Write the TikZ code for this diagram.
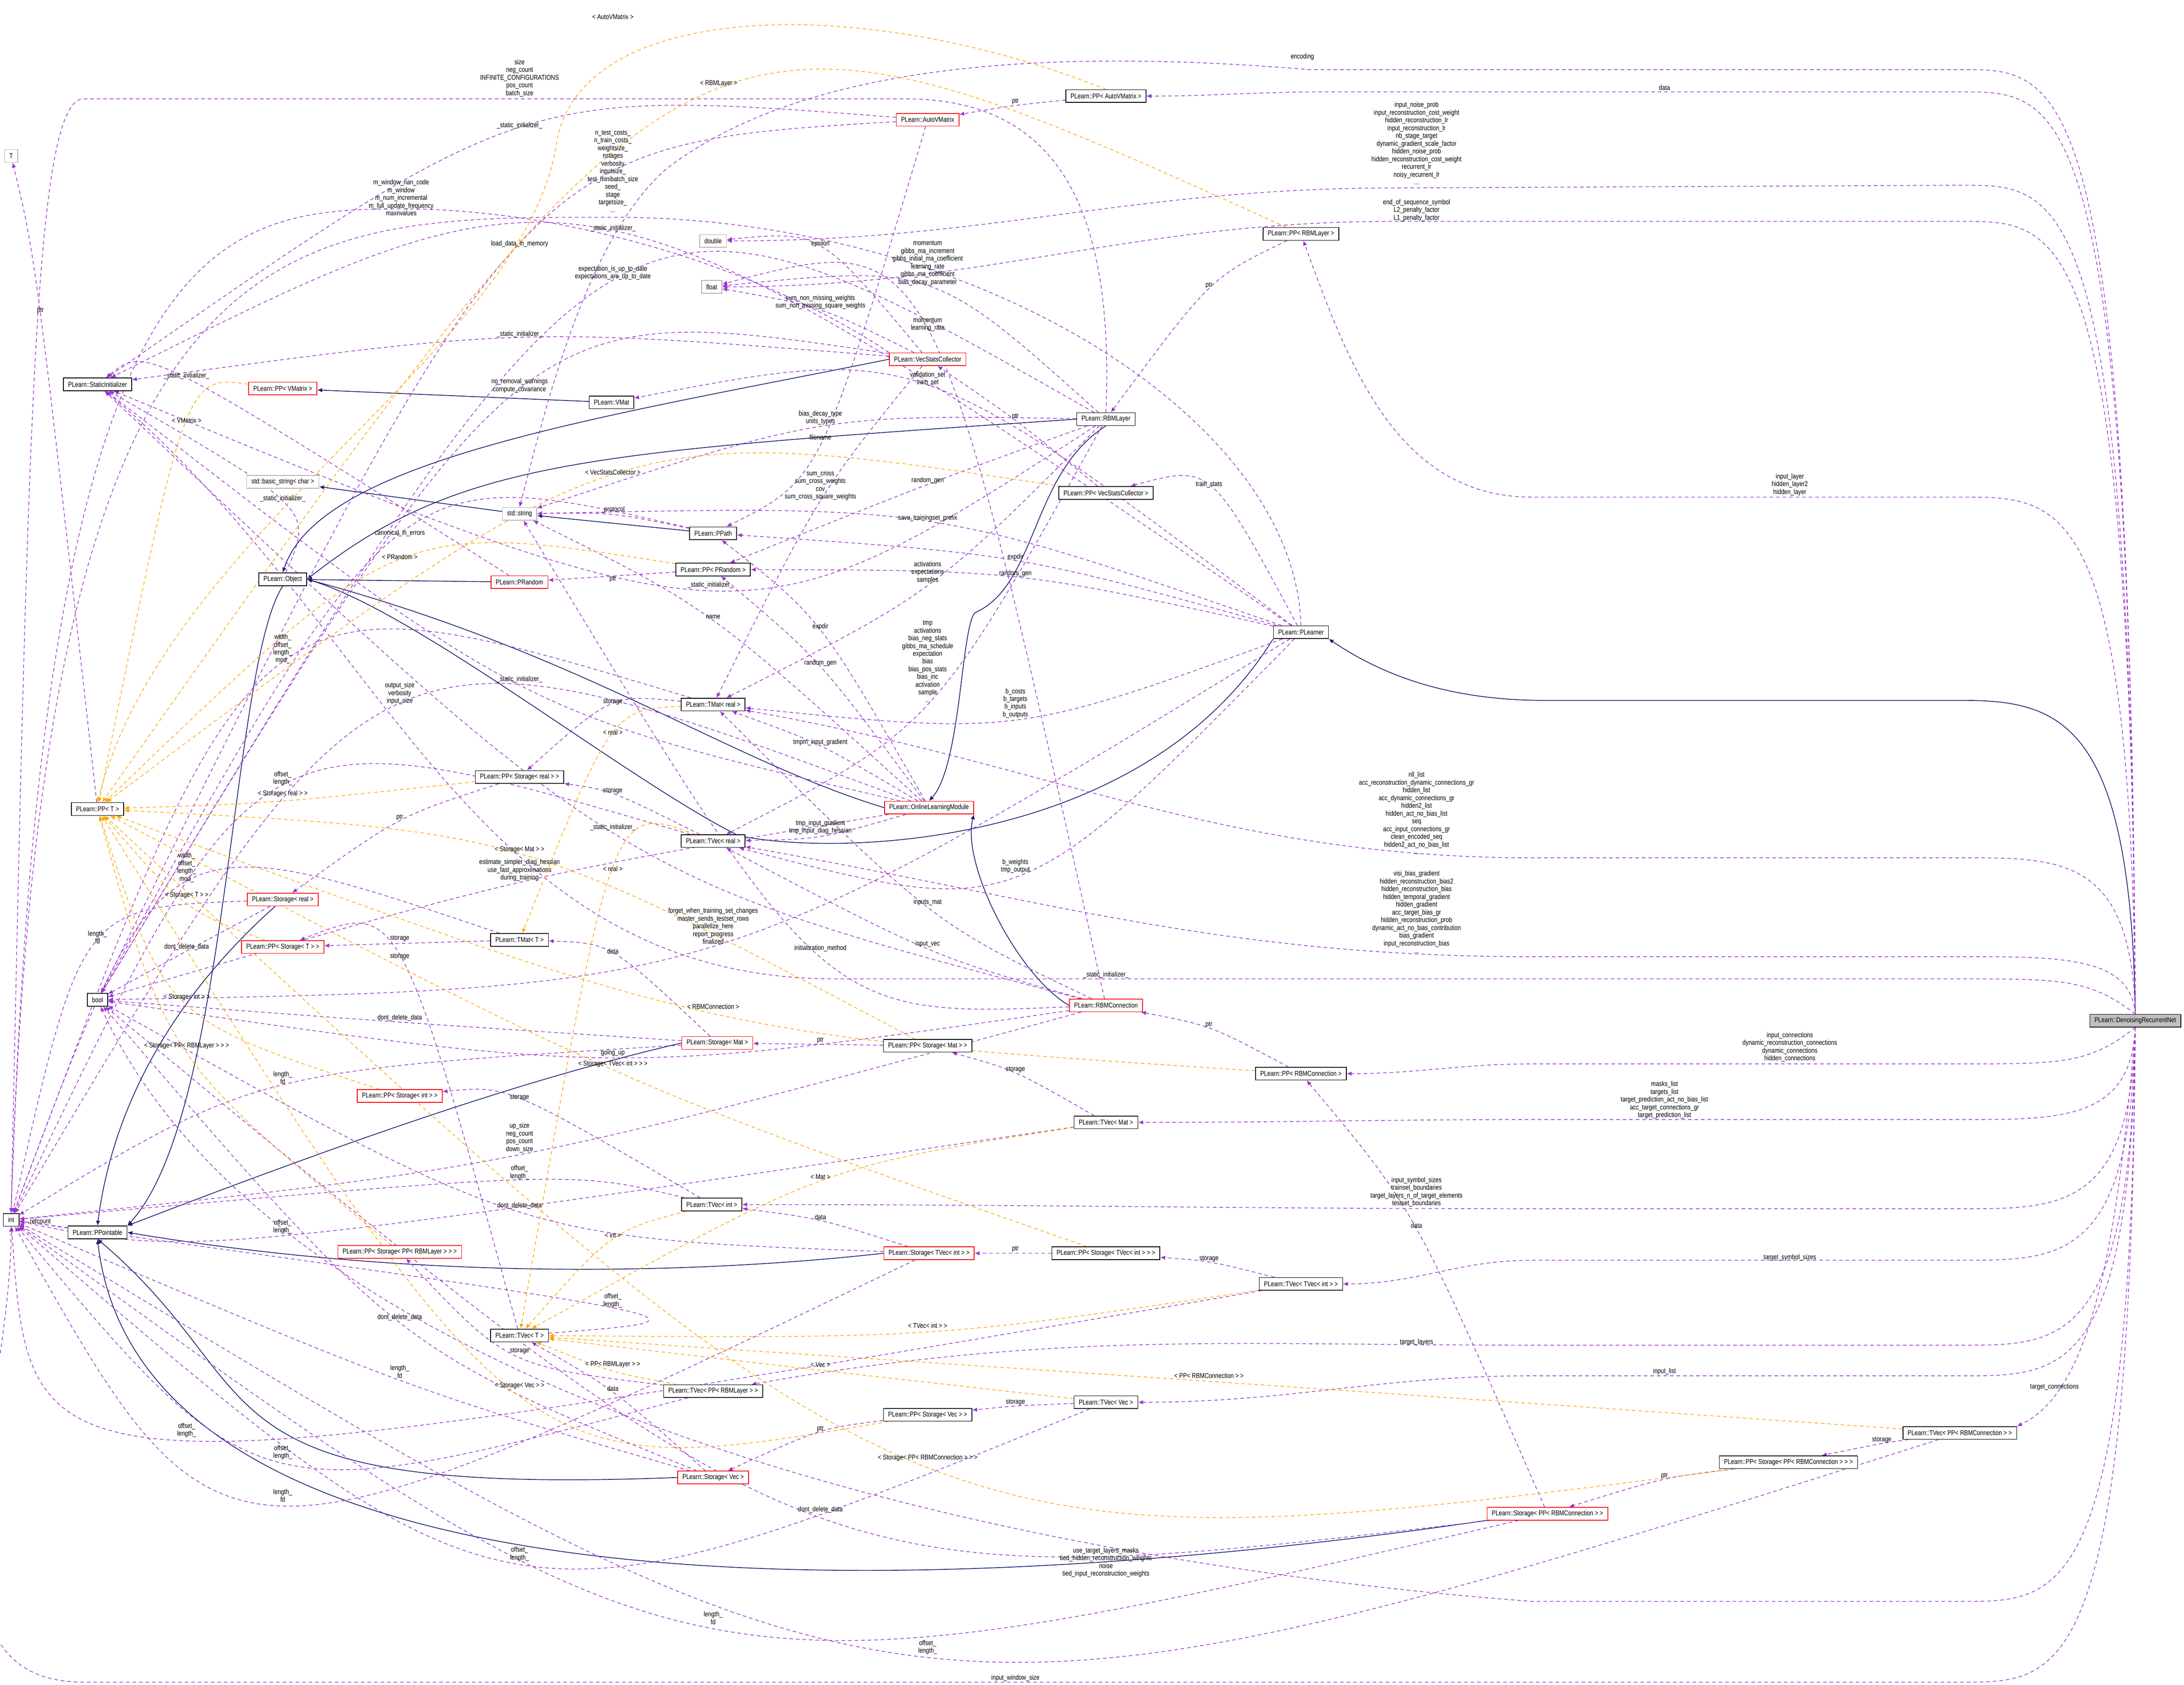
\documentclass[tikz,border=0pt]{standalone}
\usepackage{fontspec}
\setmainfont{Liberation Sans}[FakeStretch=0.82]
\usetikzlibrary{arrows.meta,calc}
\definecolor{inhc}{HTML}{191970}
\definecolor{usec}{HTML}{9A32CD}
\definecolor{tplc}{HTML}{FFA500}
\pgfdeclarelayer{bg}
\pgfsetlayers{bg,main}
\newcommand\lblfont{\fontsize{4.3}{4.75}\selectfont}
\tikzset{
 cls/.style={draw=black, fill=white, font=\lblfont, inner xsep=2.9pt, inner ysep=0pt, minimum height=7.8pt, line width=0.45pt},
 redcls/.style={cls, draw=red},
 graycls/.style={cls, draw=black!30},
 lbl/.style={font=\lblfont, align=center, inner sep=0pt},
 inh/.style={draw=inhc, line width=0.45pt, -{Latex[length=3pt,width=2.6pt]}},
 use/.style={draw=usec, line width=0.4pt, dash pattern=on 2.2pt off 1.8pt, -{Latex[length=3pt,width=2.6pt]}},
 tpl/.style={draw=tplc, line width=0.4pt, dash pattern=on 2.2pt off 1.8pt, -{Latex[length=3pt,width=2.6pt]}}
}
\newcommand\dedge[4]{\draw[#1] (#2) .. controls ($1.3333*(#3)-0.16667*(#2)-0.16667*(#4)$) .. (#4);}
\begin{document}
\begin{tikzpicture}[x=0.03cm,y=-0.03cm]
\useasboundingbox (0,0) rectangle (1568,1210);
\begin{pgfonlayer}{bg}
\fill[white] (0,0) rectangle (1568,1210);
\end{pgfonlayer}
% ---------- nodes
\node[graycls] (T) at (8,112) {T};
\node[cls] (si) at (70,276) {PLearn::StaticInitializer};
\node[redcls] (ppvm) at (203,279) {PLearn::PP< VMatrix >};
\node[cls] (vmat) at (439,289) {PLearn::VMat};
\node[graycls] (bstr) at (203,346) {std::basic\_string< char >};
\node[graycls] (str) at (373,369) {std::string};
\node[graycls] (dbl) at (512,173) {double};
\node[graycls] (flt) at (511,206) {float};
\node[cls] (ppath) at (512,383) {PLearn::PPath};
\node[cls] (ppavm) at (794,69) {PLearn::PP< AutoVMatrix >};
\node[redcls] (avm) at (666,86) {PLearn::AutoVMatrix};
\node[redcls] (vsc) at (666,258) {PLearn::VecStatsCollector};
\node[cls] (rbml) at (794,301) {PLearn::RBMLayer};
\node[cls] (pprbml) at (934,168) {PLearn::PP< RBMLayer >};
\node[cls] (ppvsc) at (794,354) {PLearn::PP< VecStatsCollector >};
\node[cls] (obj) at (203,416) {PLearn::Object};
\node[redcls] (prnd) at (373,418) {PLearn::PRandom};
\node[cls] (pprnd) at (512,409) {PLearn::PP< PRandom >};
\node[cls] (tmatr) at (512,506) {PLearn::TMat< real >};
\node[cls] (ppsr) at (373,558) {PLearn::PP< Storage< real > >};
\node[cls] (ppT) at (70,581) {PLearn::PP< T >};
\node[cls] (tvecr) at (512,604) {PLearn::TVec< real >};
\node[redcls] (sr) at (203,646) {PLearn::Storage< real >};
\node[redcls] (ppsT) at (203,680) {PLearn::PP< Storage< T > >};
\node[cls] (tmatT) at (373,675) {PLearn::TMat< T >};
\node[cls] (bool) at (70,718) {bool};
\node[redcls] (smat) at (515,749) {PLearn::Storage< Mat >};
\node[redcls] (ppsi) at (287,787) {PLearn::PP< Storage< int > >};
\node[cls] (plearner) at (934,454) {PLearn::PLearner};
\node[redcls] (olm) at (667,580) {PLearn::OnlineLearningModule};
\node[redcls] (rbmc) at (794,722) {PLearn::RBMConnection};
\node[cls] (ppsmat) at (666,751) {PLearn::PP< Storage< Mat > >};
\node[cls] (pprbmc) at (934,771) {PLearn::PP< RBMConnection >};
\node[cls] (tvmat) at (794,806) {PLearn::TVec< Mat >};
\node[cls] (int) at (8,876) {int};
\node[cls] (ppointable) at (70,885) {PLearn::PPointable};
\node[redcls] (ppsrbml) at (287,899) {PLearn::PP< Storage< PP< RBMLayer > > >};
\node[cls] (tveci) at (511,865) {PLearn::TVec< int >};
\node[cls] (tvecT) at (373,959) {PLearn::TVec< T >};
\node[cls] (tvprbml) at (512,999) {PLearn::TVec< PP< RBMLayer > >};
\node[redcls] (svec) at (512,1061) {PLearn::Storage< Vec >};
\node[redcls] (stvi) at (667,900) {PLearn::Storage< TVec< int > >};
\node[cls] (ppstvi) at (794,900) {PLearn::PP< Storage< TVec< int > > >};
\node[cls] (tvtvi) at (934,922) {PLearn::TVec< TVec< int > >};
\node[cls] (tvvec) at (794,1007) {PLearn::TVec< Vec >};
\node[cls] (ppsvec) at (666,1016) {PLearn::PP< Storage< Vec > >};
\node[cls] (tvprbmc) at (1407,1029) {PLearn::TVec< PP< RBMConnection > >};
\node[cls] (ppsprbmc) at (1284,1050) {PLearn::PP< Storage< PP< RBMConnection > > >};
\node[redcls] (sprbmc) at (1111,1087) {PLearn::Storage< PP< RBMConnection > >};
\node[cls, fill=black!25] (drn) at (1533,733) {PLearn::DenoisingRecurrentNet};
% ---------- labels
\node[lbl] (l1) at (440,12) {< AutoVMatrix >};
\node[lbl] (l2) at (373,56) {size\\neg\_count\\INFINITE\_CONFIGURATIONS\\pos\_count\\batch\_size};
\node[lbl] (l3) at (516,60) {< RBMLayer >};
\node[lbl] (l4) at (373,90) {\_static\_initializer\_};
\node[lbl] (l5) at (440,123) {n\_test\_costs\_\\n\_train\_costs\_\\weightsize\_\\nstages\\verbosity\\inputsize\_\\test\_minibatch\_size\\seed\_\\stage\\targetsize\_\\...};
\node[lbl] (l6) at (288,142) {m\_window\_nan\_code\\m\_window\\m\_num\_incremental\\m\_full\_update\_frequency\\maxnvalues};
\node[lbl] (l7) at (440,164) {\_static\_initializer\_};
\node[lbl] (l8) at (373,175) {load\_data\_in\_memory};
\node[lbl] (l9) at (440,196) {expectation\_is\_up\_to\_date\\expectations\_are\_up\_to\_date};
\node[lbl] (l10) at (29,223) {ptr};
\node[lbl] (l11) at (373,240) {\_static\_initializer\_};
\node[lbl] (l12) at (134,270) {\_static\_initializer\_};
\node[lbl] (l13) at (373,277) {no\_removal\_warnings\\compute\_covariance};
\node[lbl] (l14) at (134,302) {< VMatrix >};
\node[lbl] (l15) at (440,339) {< VecStatsCollector >};
\node[lbl] (l16) at (203,358) {\_static\_initializer\_};
\node[lbl] (l17) at (440,366) {\_protocol};
\node[lbl] (l18) at (287,383) {canonical\_in\_errors};
\node[lbl] (l19) at (287,400) {< PRandom >};
\node[lbl] (l20) at (935,41) {encoding};
\node[lbl] (l21) at (729,73) {ptr};
\node[lbl] (l22) at (1017,103) {input\_noise\_prob\\input\_reconstruction\_cost\_weight\\hidden\_reconstruction\_lr\\input\_reconstruction\_lr\\nb\_stage\_target\\dynamic\_gradient\_scale\_factor\\hidden\_noise\_prob\\hidden\_reconstruction\_cost\_weight\\recurrent\_lr\\noisy\_recurrent\_lr\\...};
\node[lbl] (l23) at (1017,151) {end\_of\_sequence\_symbol\\L2\_penalty\_factor\\L1\_penalty\_factor};
\node[lbl] (l24) at (589,175) {epsilon};
\node[lbl] (l25) at (666,189) {momentum\\gibbs\_ma\_increment\\gibbs\_initial\_ma\_coefficient\\learning\_rate\\gibbs\_ma\_coefficient\\bias\_decay\_parameter};
\node[lbl] (l26) at (868,205) {ptr};
\node[lbl] (l27) at (589,217) {sum\_non\_missing\_weights\\sum\_non\_missing\_square\_weights};
\node[lbl] (l28) at (666,233) {momentum\\learning\_rate};
\node[lbl] (l29) at (666,272) {validation\_set\\train\_set};
\node[lbl] (l30) at (589,300) {bias\_decay\_type\\units\_types};
\node[lbl] (l31) at (729,299) {ptr};
\node[lbl] (l32) at (589,314) {filename};
\node[lbl] (l33) at (589,349) {sum\_cross\\sum\_cross\_weights\\cov\\sum\_cross\_square\_weights};
\node[lbl] (l34) at (666,345) {random\_gen};
\node[lbl] (l35) at (868,348) {train\_stats};
\node[lbl] (l36) at (666,372) {save\_trainingset\_prefix};
\node[lbl] (l37) at (729,400) {expdir};
\node[lbl] (l38) at (1195,63) {data};
\node[lbl] (l39) at (1285,348) {input\_layer\\hidden\_layer2\\hidden\_layer};
\node[lbl] (l40) at (440,416) {ptr};
\node[lbl] (l41) at (510,420) {\_static\_initializer\_};
\node[lbl] (l42) at (512,443) {name};
\node[lbl] (l43) at (203,466) {width\_\\offset\_\\length\_\\mod\_};
\node[lbl] (l44) at (373,488) {\_static\_initializer\_};
\node[lbl] (l45) at (287,498) {output\_size\\verbosity\\input\_size};
\node[lbl] (l46) at (440,504) {storage};
\node[lbl] (l47) at (440,526) {< real >};
\node[lbl] (l48) at (203,559) {offset\_\\length\_};
\node[lbl] (l49) at (203,570) {< Storage< real > >};
\node[lbl] (l50) at (440,568) {storage};
\node[lbl] (l51) at (287,587) {ptr};
\node[lbl] (l52) at (440,594) {\_static\_initializer\_};
\node[lbl] (l53) at (373,610) {< Storage< Mat > >};
\node[lbl] (l54) at (373,625) {estimate\_simpler\_diag\_hessian\\use\_fast\_approximations\\during\_training};
\node[lbl] (l55) at (440,624) {< real >};
\node[lbl] (l56) at (134,623) {width\_\\offset\_\\length\_\\mod\_};
\node[lbl] (l57) at (134,643) {< Storage< T > >};
\node[lbl] (l58) at (512,665) {forget\_when\_training\_set\_changes\\master\_sends\_testset\_rows\\parallelize\_here\\report\_progress\\finalized};
\node[lbl] (l59) at (70,673) {length\_\\fd};
\node[lbl] (l60) at (134,680) {dont\_delete\_data};
\node[lbl] (l61) at (287,674) {storage};
\node[lbl] (l62) at (287,687) {storage};
\node[lbl] (l63) at (440,683) {data};
\node[lbl] (l64) at (134,716) {< Storage< int > >};
\node[lbl] (l65) at (512,723) {< RBMConnection >};
\node[lbl] (l66) at (287,731) {dont\_delete\_data};
\node[lbl] (l67) at (134,751) {< Storage< PP< RBMLayer > > >};
\node[lbl] (l68) at (440,756) {going\_up};
\node[lbl] (l69) at (440,764) {< Storage< TVec< int > > >};
\node[lbl] (l70) at (203,774) {length\_\\fd};
\node[lbl] (l71) at (373,788) {storage};
\node[lbl] (l72) at (666,411) {activations\\expectations\\samples};
\node[lbl] (l73) at (729,412) {random\_gen};
\node[lbl] (l74) at (589,450) {expdir};
\node[lbl] (l75) at (666,475) {tmp\\activations\\bias\_neg\_stats\\gibbs\_ma\_schedule\\expectation\\bias\\bias\_pos\_stats\\bias\_inc\\activation\\sample\\...};
\node[lbl] (l76) at (589,476) {random\_gen};
\node[lbl] (l77) at (729,505) {b\_costs\\b\_targets\\b\_inputs\\b\_outputs};
\node[lbl] (l78) at (589,533) {tmpm\_input\_gradient};
\node[lbl] (l79) at (1017,584) {nll\_list\\acc\_reconstruction\_dynamic\_connections\_gr\\hidden\_list\\acc\_dynamic\_connections\_gr\\hidden2\_list\\hidden\_act\_no\_bias\_list\\seq\\acc\_input\_connections\_gr\\clean\_encoded\_seq\\hidden2\_act\_no\_bias\_list\\...};
\node[lbl] (l80) at (589,594) {tmp\_input\_gradient\\tmp\_input\_diag\_hessian};
\node[lbl] (l81) at (729,622) {b\_weights\\tmp\_output};
\node[lbl] (l82) at (666,648) {inputs\_mat};
\node[lbl] (l83) at (1017,655) {visi\_bias\_gradient\\hidden\_reconstruction\_bias2\\hidden\_reconstruction\_bias\\hidden\_temporal\_gradient\\hidden\_gradient\\acc\_target\_bias\_gr\\hidden\_reconstruction\_prob\\dynamic\_act\_no\_bias\_contribution\\bias\_gradient\\input\_reconstruction\_bias\\...};
\node[lbl] (l84) at (666,678) {input\_vec};
\node[lbl] (l85) at (589,681) {initialization\_method};
\node[lbl] (l86) at (794,700) {\_static\_initializer\_};
\node[lbl] (l87) at (868,736) {ptr};
\node[lbl] (l88) at (589,747) {ptr};
\node[lbl] (l89) at (729,768) {storage};
\node[lbl] (l90) at (1285,752) {input\_connections\\dynamic\_reconstruction\_connections\\dynamic\_connections\\hidden\_connections};
\node[lbl] (l91) at (1195,790) {masks\_list\\targets\_list\\target\_prediction\_act\_no\_bias\_list\\acc\_target\_connections\_gr\\target\_prediction\_list};
\node[lbl] (l92) at (373,817) {up\_size\\neg\_count\\pos\_count\\down\_size};
\node[lbl] (l93) at (373,842) {offset\_\\length\_};
\node[lbl] (l94) at (373,866) {dont\_delete\_data};
\node[lbl] (l95) at (29,877) {refcount};
\node[lbl] (l96) at (203,881) {offset\_\\length\_};
\node[lbl] (l97) at (440,887) {< int >};
\node[lbl] (l98) at (440,934) {offset\_\\length\_};
\node[lbl] (l99) at (287,946) {dont\_delete\_data};
\node[lbl] (l100) at (373,970) {storage};
\node[lbl] (l101) at (440,980) {< PP< RBMLayer > >};
\node[lbl] (l102) at (287,985) {length\_\\fd};
\node[lbl] (l103) at (373,995) {< Storage< Vec > >};
\node[lbl] (l104) at (440,997) {data};
\node[lbl] (l105) at (134,1027) {offset\_\\length\_};
\node[lbl] (l106) at (203,1043) {offset\_\\length\_};
\node[lbl] (l107) at (203,1074) {length\_\\fd};
\node[lbl] (l108) at (373,1116) {offset\_\\length\_};
\node[lbl] (l109) at (512,1162) {length\_\\fd};
\node[lbl] (l110) at (589,845) {< Mat >};
\node[lbl] (l111) at (1017,856) {input\_symbol\_sizes\\trainset\_boundaries\\target\_layers\_n\_of\_target\_elements\\testset\_boundaries};
\node[lbl] (l112) at (589,874) {data};
\node[lbl] (l113) at (1017,880) {data};
\node[lbl] (l114) at (729,897) {ptr};
\node[lbl] (l115) at (868,904) {storage};
\node[lbl] (l116) at (666,952) {< TVec< int > >};
\node[lbl] (l117) at (1017,964) {target\_layers};
\node[lbl] (l118) at (589,980) {< Vec >};
\node[lbl] (l119) at (868,988) {< PP< RBMConnection > >};
\node[lbl] (l120) at (729,1007) {storage};
\node[lbl] (l121) at (589,1026) {ptr};
\node[lbl] (l122) at (666,1047) {< Storage< PP< RBMConnection > > >};
\node[lbl] (l123) at (589,1084) {dont\_delete\_data};
\node[lbl] (l124) at (794,1122) {use\_target\_layers\_masks\\tied\_hidden\_reconstruction\_weights\\noise\\tied\_input\_reconstruction\_weights};
\node[lbl] (l125) at (666,1183) {offset\_\\length\_};
\node[lbl] (l126) at (729,1205) {input\_window\_size};
\node[lbl] (l127) at (1285,903) {target\_symbol\_sizes};
\node[lbl] (l128) at (1195,985) {input\_list};
\node[lbl] (l129) at (1475,996) {target\_connections};
\node[lbl] (l130) at (1351,1034) {storage};
\node[lbl] (l131) at (1195,1060) {ptr};
\begin{pgfonlayer}{bg}
% ---------- inheritance
\draw[inh] (vmat) -- (ppvm);
\draw[inh] (str) -- (bstr);
\draw[inh] (ppath) -- (str);
\draw[inh] (prnd) -- (obj);
\draw[inh] (vsc.west) .. controls (430,300) and (230,330) .. (obj.north);
\draw[inh] (rbml.west) .. controls (420,325) and (330,330) .. (obj.east);
\draw[inh] (olm.west) .. controls (520,545) and (420,470) .. (obj.east);
\draw[inh] (plearner.south west) .. controls (820,610) and (600,615) .. (530,600) .. controls (450,560) and (300,440) .. (obj.east);
\draw[inh] (rbml.south) .. controls (740,340) and (745,420) .. (700,440) .. controls (690,450) and (690,550) .. (olm.north);
\draw[inh] (rbmc.west) .. controls (730,700) and (690,620) .. (olm.south east);
\draw[inh] (drn.north) .. controls (1530,520) and (1480,503) .. (1410,503) -- (1110,503) .. controls (1050,503) and (1000,490) .. (plearner.south east);
\draw[inh] (obj.south) .. controls (165,480) and (165,800) .. (ppointable.north east);
\draw[inh] (sr) .. controls (120,720) and (80,800) .. (ppointable.north);
\draw[inh] (smat.west) .. controls (400,770) and (300,800) .. (ppointable.north east);
\draw[inh] (stvi.west) .. controls (500,915) and (300,920) .. (ppointable.east);
\draw[inh] (svec.west) .. controls (130,1075) and (200,1000) .. (ppointable.south);
\draw[inh] (sprbmc.south west) .. controls (600,1160) and (100,1150) .. (ppointable.south);
% ---------- DRN lanes
\draw[use] (drn.north) .. controls (1530,50) and (1480,50) .. (1410,50) -- (940,50) .. controls (700,30) and (560,60) .. (480,120) .. controls (420,170) and (390,300) .. (str.north);
\draw[use] (drn.north) .. controls (1530,66) and (1480,66) .. (1410,66) -- (950,66) to[out=180,in=0] (ppavm);
\draw[use] (drn.north) .. controls (1530,133) and (1480,133) .. (1410,133) -- (1000,135) to[out=180,in=0] (dbl);
\draw[use] (drn.north) .. controls (1530,159) and (1480,159) .. (1410,159) -- (1000,159) to[out=180,in=0] (flt);
\draw[use] (drn.north) .. controls (1530,357) and (1480,357) .. (1410,357) -- (1100,357) to[out=180,in=-70] (pprbml);
\draw[use] (drn.north) .. controls (1530,616) and (1480,616) .. (1410,616) -- (1100,616) to[out=180,in=-10] (tmatr);
\draw[use] (drn.north) .. controls (1530,687) and (1480,687) .. (1410,687) -- (1100,687) to[out=180,in=-10] (tvecr);
\draw[use] (drn.north) .. controls (1500,703) and (1480,703) .. (1410,703) -- (600,703) to[out=180,in=-40] (si);
\draw[use] (drn.south) .. controls (1500,764) and (1480,764) .. (1410,764) -- (1100,764) to[out=180,in=0] (pprbmc);
\draw[use] (drn.south) .. controls (1530,804) and (1480,804) .. (1410,804) -- (1100,804) to[out=180,in=0] (tvmat);
\draw[use] (drn.south) .. controls (1530,868) and (1480,868) .. (1410,868) -- (1100,868) to[out=180,in=0] (tveci);
\draw[use] (drn.south) .. controls (1530,905) and (1480,905) .. (1410,905) -- (1100,905) to[out=180,in=0] (tvtvi);
\draw[use] (drn.south) .. controls (1530,966) and (1480,966) .. (1410,966) -- (1100,966) to[out=180,in=10] (tvprbml);
\draw[use] (drn.south) .. controls (1530,988) and (1480,988) .. (1410,988) -- (1100,988) to[out=180,in=0] (tvvec);
\draw[use] (drn.south) .. controls (1520,900) and (1500,1000) .. (tvprbmc.north east);
\draw[use] (drn.south) .. controls (1530,1150) and (1480,1150) .. (1410,1150) -- (1100,1150) .. controls (700,1120) and (200,1000) .. (bool);
\draw[use] (drn.south) .. controls (1530,1208) and (1480,1208) .. (1410,1208) -- (60,1208) to[out=180,in=-90] (int.south);
% ---------- to int
\draw[use] (rbml.north) .. controls (800,150) and (760,71) .. (650,71) -- (60,71) .. controls (25,71) and (20,300) .. (int.north);
\draw[use] (plearner.north) .. controls (930,300) and (700,156) .. (440,156) .. controls (200,156) and (30,150) .. (int.north);
\draw[use] (vsc.north west) .. controls (560,200) and (420,150) .. (288,150) .. controls (150,150) and (30,170) .. (int.north);
\draw[use] (ppointable) -- (int);
\dedge{use}{olm}{287,507}{int}
\dedge{use}{rbmc}{373,829}{int}
\dedge{use}{tmatr}{203,478}{int}
\dedge{use}{tmatT}{134,635}{int}
\dedge{use}{tvecr}{203,566}{int}
\dedge{use}{tveci}{373,848}{int}
\dedge{use}{tvecT}{440,940}{int}
\dedge{use}{tvmat}{203,887}{int}
\dedge{use}{tvtvi}{134,1033}{int}
\dedge{use}{tvprbml}{203,1049}{int}
\dedge{use}{tvvec}{373,1122}{int}
\dedge{use}{tvprbmc}{666,1189}{int}
\dedge{use}{sr}{70,679}{int}
\dedge{use}{smat}{203,780}{int}
\dedge{use}{stvi}{203,1080}{int}
\dedge{use}{svec}{287,991}{int}
\dedge{use}{sprbmc}{512,1168}{int}
% ---------- to bool
\dedge{use}{plearner}{512,679}{bool}
\dedge{use}{rbml}{440,203}{bool}
\dedge{use}{vsc}{373,283}{bool}
\dedge{use}{avm}{373,178}{bool}
\dedge{use}{olm}{373,634}{bool}
\dedge{use}{rbmc}{440,759}{bool}
\dedge{use}{sr}{134,683}{bool}
\dedge{use}{smat}{287,734}{bool}
\dedge{use}{stvi}{373,869}{bool}
\dedge{use}{svec}{287,949}{bool}
\dedge{use}{sprbmc}{589,1087}{bool}
\dedge{use}{ppath}{287,386}{bool}
% ---------- to StaticInitializer
\dedge{use}{avm}{373,93}{si}
\dedge{use}{plearner}{440,167}{si}
\dedge{use}{vsc}{373,243}{si}
\dedge{use}{prnd}{134,273}{si}
\dedge{use}{obj}{203,361}{si}
\dedge{use}{rbml}{510,423}{si}
\dedge{use}{olm}{373,491}{si}
\dedge{use}{rbmc}{440,597}{si}
% ---------- other usages
\dedge{use}{ppath}{440,370}{str}
\dedge{use}{rbml}{589,307}{str}
\dedge{use}{olm}{512,446}{str}
\dedge{use}{rbmc}{589,684}{str}
\dedge{use}{plearner}{666,375}{str}
\dedge{use}{avm}{589,317}{ppath}
\dedge{use}{plearner}{729,403}{ppath}
\dedge{use}{olm}{589,453}{ppath}
\dedge{use}{vsc}{589,178}{dbl}
\dedge{use}{rbml}{666,206}{flt}
\dedge{use}{vsc}{589,223}{flt}
\dedge{use}{rbmc}{666,239}{flt}
\dedge{use}{plearner}{666,278}{vmat}
\dedge{use}{plearner}{868,351}{ppvsc}
\dedge{use}{rbml}{666,348}{pprnd}
\dedge{use}{plearner}{729,415}{pprnd}
\dedge{use}{olm}{589,479}{pprnd}
\dedge{use}{vsc}{589,360}{tmatr}
\dedge{use}{rbmc}{666,651}{tmatr}
\dedge{use}{olm}{589,536}{tmatr}
\dedge{use}{plearner}{729,516}{tmatr}
\dedge{use}{rbml}{666,420}{tmatr}
\dedge{use}{rbml}{666,505}{tvecr}
\dedge{use}{olm}{589,600}{tvecr}
\dedge{use}{plearner}{729,628}{tvecr}
\dedge{use}{rbmc}{666,681}{tvecr}
% ---------- pointers
\dedge{use}{ppT}{29,226}{T}
\dedge{use}{ppavm}{729,76}{avm}
\dedge{use}{pprbml}{868,208}{rbml}
\dedge{use}{ppvsc}{729,302}{vsc}
\draw[use] (pprnd) -- (prnd);
\dedge{use}{ppsr}{287,590}{sr}
\draw[use] (ppsmat) -- (smat);
\draw[use] (ppstvi) -- (stvi);
\dedge{use}{ppsvec}{589,1029}{svec}
\dedge{use}{ppsprbmc}{1195,1063}{sprbmc}
\dedge{use}{pprbmc}{868,739}{rbmc}
% ---------- storage / data
\dedge{use}{tmatr}{440,507}{ppsr}
\dedge{use}{tvecr}{440,571}{ppsr}
\draw[use] (tmatT) -- (ppsT);
\dedge{use}{tvecT}{287,690}{ppsT}
\dedge{use}{tvmat}{729,771}{ppsmat}
\dedge{use}{tveci}{373,791}{ppsi}
\dedge{use}{tvtvi}{868,907}{ppstvi}
\dedge{use}{tvprbml}{373,973}{ppsrbml}
\dedge{use}{tvvec}{729,1010}{ppsvec}
\dedge{use}{tvprbmc}{1351,1037}{ppsprbmc}
\dedge{use}{smat}{440,686}{tmatT}
\dedge{use}{stvi}{589,877}{tveci}
\dedge{use}{svec}{440,1000}{tvecT}
\dedge{use}{sprbmc}{1017,883}{pprbmc}
% ---------- template instances
\draw[tpl] (ppavm.north) .. controls (620,-5) and (420,0) .. (400,100) .. controls (380,250) and (120,380) .. (ppT.north);
\dedge{tpl}{pprbml}{500,72}{ppT}
\dedge{tpl}{ppvm}{134,310}{ppT}
\dedge{tpl}{ppvsc}{440,343}{ppT}
\dedge{tpl}{pprnd}{287,404}{ppT}
\dedge{tpl}{ppsr}{203,575}{ppT}
\dedge{tpl}{ppsT}{134,648}{ppT}
\dedge{tpl}{ppsmat}{373,614}{ppT}
\dedge{tpl}{ppsi}{134,720}{ppT}
\dedge{tpl}{ppsrbml}{134,755}{ppT}
\dedge{tpl}{ppstvi}{440,768}{ppT}
\dedge{tpl}{ppsvec}{373,999}{ppT}
\dedge{tpl}{ppsprbmc}{666,1051}{ppT}
\dedge{tpl}{pprbmc}{512,727}{ppT}
\dedge{tpl}{tmatr}{440,530}{tmatT}
\dedge{tpl}{tvecr}{440,628}{tvecT}
\dedge{tpl}{tveci}{440,891}{tvecT}
\dedge{tpl}{tvmat}{589,849}{tvecT}
\dedge{tpl}{tvtvi}{666,956}{tvecT}
\dedge{tpl}{tvprbml}{440,984}{tvecT}
\dedge{tpl}{tvvec}{589,984}{tvecT}
\dedge{tpl}{tvprbmc}{868,992}{tvecT}
\end{pgfonlayer}
\end{tikzpicture}
\end{document}
